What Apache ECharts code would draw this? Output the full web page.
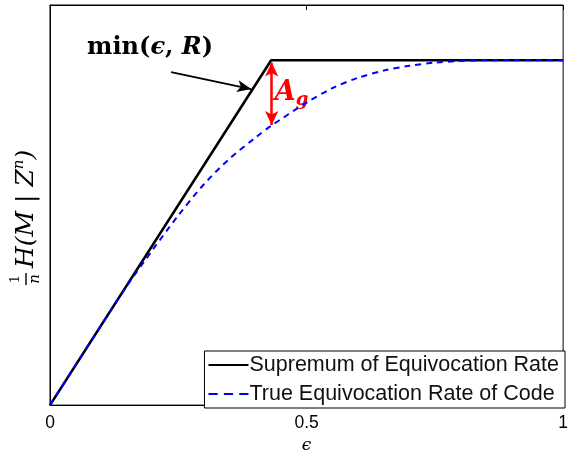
<!DOCTYPE html>
<html><head><meta charset="utf-8">
<script src="https://cdn.jsdelivr.net/npm/echarts@6/dist/echarts.min.js"></script>
<style>html,body{margin:0;padding:0;background:#fff}#c{width:571px;height:459px}</style>
</head><body><div id="c"></div>
<script>
const R = 0.43;
const supX = [0, 0.431, 1];
const supY = [0, 0.431, 0.431];
const trueX = [0, 0.05, 0.1, 0.15, 0.2, 0.25, 0.3, 0.35, 0.4, 0.431, 0.5, 0.55, 0.6, 0.65, 0.7, 0.75, 0.8, 0.85, 0.9, 0.95, 1];
const trueY = [0, 0.05, 0.1, 0.149, 0.194, 0.237, 0.276, 0.308, 0.334, 0.349, 0.378, 0.396, 0.409, 0.418, 0.424, 0.428, 0.43, 0.431, 0.431, 0.431, 0.431];
const xTicks = [0, 0.5, 1];

const chart = echarts.init(document.getElementById('c'));
const serif = 'DejaVu Serif';
const sans = 'Liberation Sans';
const option = {
  animation: false,
  grid: { left: 50, right: 4, top: 5, bottom: 49, show: true, borderColor: '#000', borderWidth: 1 },
  xAxis: [{
    type: 'value', min: 0, max: 1, interval: 0.5,
    axisLine: { show: true, lineStyle: { color: '#000', width: 1 } },
    axisTick: { show: true, inside: true, length: 5, lineStyle: { color: '#000' } },
    axisLabel: { color: '#000', fontFamily: sans, fontSize: 17.5, margin: 9,
      formatter: v => xTicks.includes(+v.toFixed(2)) ? String(v) : '' },
    splitLine: { show: false },
    name: 'ϵ', nameLocation: 'middle', nameGap: 30,
    nameTextStyle: { color: '#000', fontFamily: serif, fontStyle: 'italic', fontSize: 17 }
  }, {
    type: 'value', min: 0, max: 1, interval: 0.5, position: 'top',
    axisLine: { show: true, lineStyle: { color: '#000' } },
    axisTick: { show: true, inside: true, length: 5, lineStyle: { color: '#000' } },
    axisLabel: { show: false }, splitLine: { show: false }
  }],
  yAxis: {
    type: 'value', min: 0, max: 0.5,
    axisLine: { show: true, lineStyle: { color: '#000' } },
    axisTick: { show: false }, axisLabel: { show: false }, splitLine: { show: false }
  },
  legend: {
    orient: 'vertical', right: 6, bottom: 51,
    backgroundColor: '#fff', borderColor: '#000', borderWidth: 1,
    padding: [3, 6, 3, 4], itemGap: 7, itemWidth: 40, itemHeight: 20,
    textStyle: { color: '#111', fontFamily: sans, fontSize: 21.5, padding: [0, 0, 0, -4] },
    data: [
      { name: 'Supremum of Equivocation Rate', icon: 'path://M0,9 L40,9 L40,11 L0,11 Z', itemStyle: { color: '#000' } },
      { name: 'True Equivocation Rate of Code', icon: 'path://M0,9 L9,9 L9,11 L0,11 Z M15,9 L24,9 L24,11 L15,11 Z M30,9 L39,9 L39,11 L30,11 Z', itemStyle: { color: '#0000ff' } }
    ]
  },
  series: [{
    name: 'Supremum of Equivocation Rate', type: 'line', showSymbol: false, symbol: 'none',
    data: supX.map((x, i) => [x, supY[i]]),
    lineStyle: { color: '#000', width: 2.6 }, itemStyle: { color: '#000' }, z: 2,
    markLine: {
      silent: true, symbol: ['none', 'arrow'], symbolSize: [9, 14],
      lineStyle: { color: '#000', width: 1.8, type: 'solid' }, label: { show: false },
      data: [[{ coord: [0.236, 0.416] }, { coord: [0.392, 0.395] }]]
    }
  }, {
    name: 'True Equivocation Rate of Code', type: 'line', showSymbol: false, symbol: 'none', smooth: 0.3,
    data: trueX.map((x, i) => [x, trueY[i]]),
    lineStyle: { color: '#0000ff', width: 2, type: [6, 5] }, itemStyle: { color: '#0000ff' }, z: 3,
    markLine: {
      silent: true, symbol: ['arrow', 'arrow'], symbolSize: [10, 14],
      lineStyle: { color: '#ff0000', width: 2.5, type: 'solid' }, label: { show: false },
      data: [[{ coord: [0.432, 0.428] }, { coord: [0.432, 0.35] }]]
    }
  }]
};
chart.setOption(option);

const p1 = chart.convertToPixel({ gridIndex: 0 }, [0.195, 0.447]);
const p2 = chart.convertToPixel({ gridIndex: 0 }, [0.44, 0.39]);
chart.setOption({
  graphic: [{
    type: 'text', x: p1[0], y: p1[1],
    style: {
      text: '{b|min(}{i|ϵ}{b|, }{i|R}{b|)}', align: 'center', verticalAlign: 'middle',
      rich: {
        b: { fontFamily: serif, fontWeight: 'bold', fontSize: 24, fill: '#000' },
        i: { fontFamily: serif, fontWeight: 'bold', fontStyle: 'italic', fontSize: 24, fill: '#000' }
      }
    }
  }, {
    type: 'text', x: p2[0] - 1, y: p2[1],
    style: {
      text: '{a|A}{g|g}', align: 'left', verticalAlign: 'middle',
      rich: {
        a: { fontFamily: serif, fontStyle: 'italic', fontWeight: 'bold', fontSize: 27, fill: '#ff0000' },
        g: { fontFamily: serif, fontStyle: 'italic', fontWeight: 'bold', fontSize: 18, fill: '#ff0000', padding: [14, 0, 0, 0] }
      }
    }
  }, {
    type: 'group', x: 26, y: 208, rotation: Math.PI / 2,
    children: [
      { type: 'text', x: -71, y: -10, style: { text: '1', fontFamily: serif, fontSize: 13, fill: '#000', align: 'center', verticalAlign: 'middle' } },
      { type: 'line', shape: { x1: -77, y1: 0, x2: -65, y2: 0 }, style: { stroke: '#000', lineWidth: 1.4 } },
      { type: 'text', x: -71, y: 9, style: { text: 'n', fontFamily: serif, fontStyle: 'italic', fontSize: 15, fill: '#000', align: 'center', verticalAlign: 'middle' } },
      { type: 'text', x: -60, y: 0, style: {
          text: '{t|H(M}{u| | }{t|Z}{s|n}{t|)}', align: 'left', verticalAlign: 'middle',
          rich: {
            t: { fontFamily: serif, fontStyle: 'italic', fontSize: 25, fill: '#000' },
            u: { fontFamily: serif, fontSize: 25, fill: '#000' },
            s: { fontFamily: serif, fontStyle: 'italic', fontSize: 15, fill: '#000', padding: [0, 0, 14, 0] }
          } } }
    ]
  }]
});
</script>
</body></html>
